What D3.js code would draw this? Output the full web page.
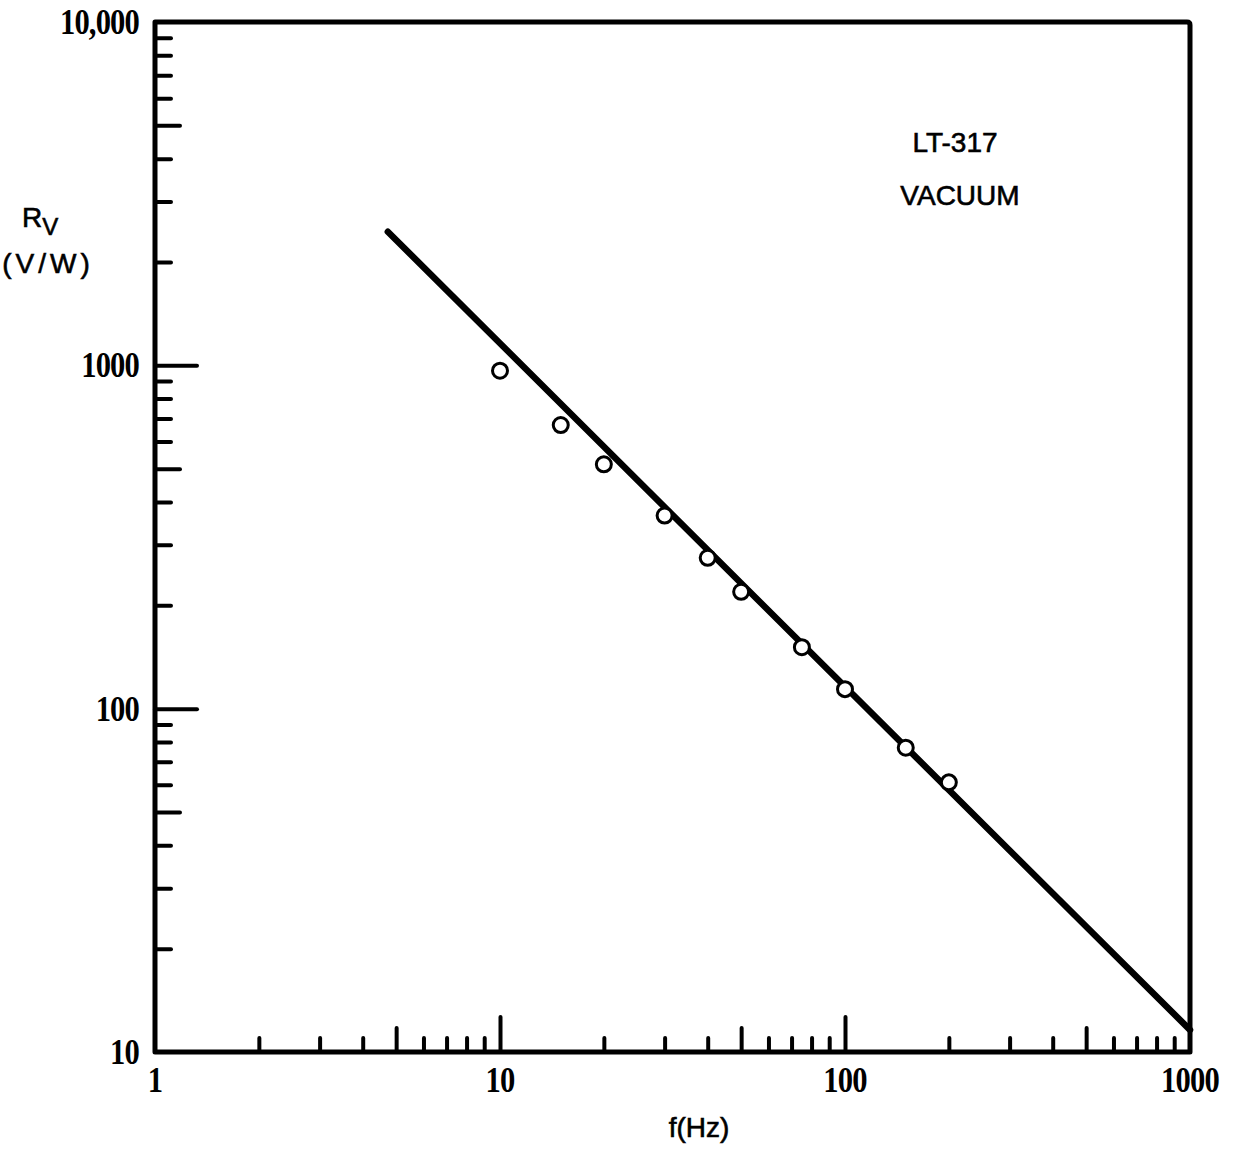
<!DOCTYPE html>
<html>
<head>
<meta charset="utf-8">
<script src="https://cdn.jsdelivr.net/npm/d3@7"></script>
<style>
  body { margin: 0; background: #fff; }
  .serif { font-family: "Liberation Serif", serif; font-weight: bold; font-size: 36px; letter-spacing: -1px; }
  .sans { font-family: "Liberation Sans", sans-serif; font-size: 28px; stroke: #000; stroke-width: 0.6; }
  .axis line { stroke: #000; stroke-width: 4; stroke-linecap: round; }
</style>
</head>
<body>
<svg id="chart" width="1234" height="1150"></svg>
<script>
// measured points (LT-317, vacuum)
var freqs = [10, 15, 20, 30, 40, 50, 75, 100, 150, 200];
var rv    = [965, 670, 515, 365, 275, 219, 151, 114, 77, 61];

// fitted line end points
var fitF = [4.73, 1000];
var fitR = [2450, 11.6];

var xLabelVals = [1, 10, 100, 1000];
var xLabels    = ["1", "10", "100", "1000"];
var yLabelVals = [10, 100, 1000, 10000];
var yLabels    = ["10", "100", "1000", "10,000"];

var majors = [10, 100, 1000];
var fives  = [5, 50, 500, 5000];
var minors = [2, 3, 4, 6, 7, 8, 9, 20, 30, 40, 60, 70, 80, 90, 200, 300, 400, 600, 700, 800, 900, 2000, 3000, 4000, 6000, 7000, 8000, 9000];

var plotL = 155, plotR = 1190, plotT = 22, plotB = 1052;

var x = d3.scaleLog().domain([1, 1000]).range([plotL, plotR]);
var y = d3.scaleLog().domain([10, 10000]).range([plotB, plotT]);

var svg = d3.select('#chart');

function xTicks(vals, len) {
    svg.append('g')
        .attr('class', 'axis')
        .attr('transform', 'translate(0,' + plotB + ')')
        .call(d3.axisBottom(x).tickValues(vals.filter(function(v){ return v > 1 && v < 1000; }))
            .tickSize(-len).tickFormat(''))
        .call(function(g){ g.select('.domain').remove(); });
}
function yTicks(vals, len) {
    svg.append('g')
        .attr('class', 'axis')
        .attr('transform', 'translate(' + plotL + ',0)')
        .call(d3.axisLeft(y).tickValues(vals.filter(function(v){ return v > 10 && v < 10000; }))
            .tickSize(-len).tickFormat(''))
        .call(function(g){ g.select('.domain').remove(); });
}

xTicks(majors, 35); xTicks(fives, 24); xTicks(minors, 14);
yTicks(majors, 42); yTicks(fives, 25); yTicks(minors, 16);

// frame
svg.append('path')
    .attr('d', 'M' + plotL + ',' + plotB + 'V' + plotT + 'H' + (plotR - 3) +
        'Q' + plotR + ',' + plotT + ' ' + plotR + ',' + (plotT + 3) + 'V' + plotB + 'Z')
    .attr('fill', 'none')
    .attr('stroke', '#000')
    .attr('stroke-width', 5)
    .attr('stroke-linejoin', 'round');

// tick labels (narrow, tall digits like the typed original)
svg.selectAll('.xlbl').data(xLabelVals).enter().append('text')
    .attr('class', 'serif xlbl')
    .attr('transform', function(d){ return 'translate(' + x(d) + ',' + (plotB + 40) + ') scale(0.85,1)'; })
    .attr('text-anchor', 'middle')
    .text(function(d, i){ return xLabels[i]; });

svg.selectAll('.ylbl').data(yLabelVals).enter().append('text')
    .attr('class', 'serif ylbl')
    .attr('transform', function(d){ return 'translate(' + (plotL - 16) + ',' + (y(d) + 12) + ') scale(0.85,1)'; })
    .attr('text-anchor', 'end')
    .text(function(d, i){ return yLabels[i]; });

// fitted line
svg.append('path')
    .datum(fitF.map(function(f, i){ return [f, fitR[i]]; }))
    .attr('d', d3.line().x(function(d){ return x(d[0]); }).y(function(d){ return y(d[1]); }))
    .attr('fill', 'none')
    .attr('stroke', '#000')
    .attr('stroke-width', 6.5)
    .attr('stroke-linecap', 'round');

// points
svg.selectAll('.pt').data(freqs).enter().append('circle')
    .attr('class', 'pt')
    .attr('cx', function(d){ return x(d); })
    .attr('cy', function(d, i){ return y(rv[i]); })
    .attr('r', 7.5)
    .attr('fill', '#fff')
    .attr('stroke', '#000')
    .attr('stroke-width', 3);

// annotations
svg.append('text').attr('class', 'sans').attr('x', 955).attr('y', 152)
    .attr('text-anchor', 'middle').text('LT-317');
svg.append('text').attr('class', 'sans').attr('x', 960).attr('y', 205)
    .attr('text-anchor', 'middle').text('VACUUM');

svg.append('text').attr('class', 'sans').attr('x', 699).attr('y', 1137)
    .attr('text-anchor', 'middle').text('f(Hz)');

var rlab = svg.append('text').attr('class', 'sans').attr('x', 22).attr('y', 227);
rlab.append('tspan').text('R');
rlab.append('tspan').attr('dy', 8).style('font-size', '24px').text('V');

svg.append('text').attr('class', 'sans').attr('x', 48).attr('y', 273)
    .attr('text-anchor', 'middle').style('letter-spacing', '4px').text('(V/W)');
</script>
</body>
</html>
